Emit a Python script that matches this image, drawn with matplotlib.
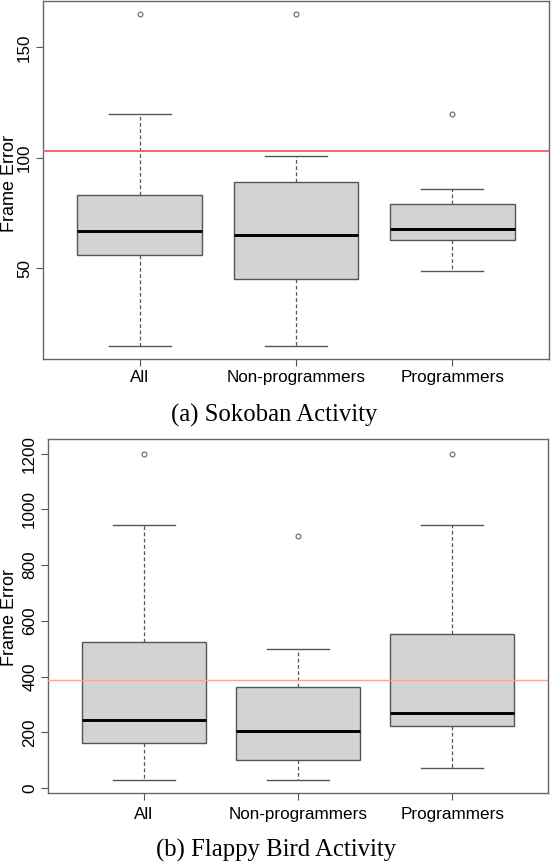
import matplotlib
matplotlib.use("Agg")
import matplotlib.pyplot as plt

plt.rcParams["font.family"] = ["Liberation Sans", "DejaVu Sans"]

groups = ["All", "Non-programmers", "Programmers"]

# (a) Sokoban: five-number summaries
soko_whislo = [15, 15, 49]
soko_q1 = [56, 45, 63]
soko_med = [67, 65, 68]
soko_q3 = [83, 89, 79]
soko_whishi = [120, 101, 86]
soko_fliers = [[165], [165], [120]]
soko_ref = 103
soko_ticks = [50, 100, 150]

# (b) Flappy Bird
flappy_whislo = [30, 30, 73]
flappy_q1 = [160, 102, 224]
flappy_med = [245, 203, 269]
flappy_q3 = [525, 363, 551]
flappy_whishi = [945, 498, 945]
flappy_fliers = [[1200], [905], [1200]]
flappy_ref = 386
flappy_ticks = [0, 200, 400, 600, 800, 1000, 1200]

EDGE = "#555555"
FILL = "#d3d3d3"
TICK_FS = 12.3


def make_stats(whislo, q1, med, q3, whishi, fliers):
    return [
        dict(whislo=a, q1=b, med=c, q3=d, whishi=e, fliers=f, label=g)
        for a, b, c, d, e, f, g in zip(whislo, q1, med, q3, whishi, fliers, groups)
    ]


def draw_panel(ax, stats, ref, ref_color, ref_lw, ticks, ylim, xpad):
    ax.bxp(
        stats,
        positions=[1, 2, 3],
        widths=0.8,
        capwidths=0.4,
        patch_artist=True,
        boxprops=dict(facecolor=FILL, edgecolor=EDGE, linewidth=1.0),
        medianprops=dict(color="black", linewidth=2.1),
        whiskerprops=dict(color=EDGE, linewidth=0.9, linestyle=(0, (3, 2))),
        capprops=dict(color=EDGE, linewidth=1.0),
        flierprops=dict(marker="o", markersize=3.5, markerfacecolor="none",
                        markeredgecolor="#666666", markeredgewidth=0.8),
    )
    ax.axhline(ref, color=ref_color, linewidth=ref_lw, zorder=5)
    ax.set_xlim(0.38, 3.62)
    ax.set_ylim(*ylim)
    ax.set_yticks(ticks)
    ax.set_xticks([1, 2, 3])
    ax.set_xticklabels(groups, fontsize=TICK_FS)
    for lab in ax.get_yticklabels():
        lab.set_rotation(90)
        lab.set_va("center")
        lab.set_fontsize(TICK_FS)
    ax.tick_params(axis="y", length=5, pad=3, color=EDGE)
    ax.tick_params(axis="x", length=5, pad=xpad, color=EDGE)
    for sp in ax.spines.values():
        sp.set_color("#666666")
        sp.set_linewidth(1.0)


fig = plt.figure(figsize=(5.52, 8.64), dpi=100)

ax1 = fig.add_axes([43 / 552, 1 - 359 / 864, 506 / 552, 358 / 864])
draw_panel(ax1, make_stats(soko_whislo, soko_q1, soko_med, soko_q3, soko_whishi, soko_fliers),
           soko_ref, "#f06a6a", 1.4, soko_ticks, (9, 171), 3)

ax2 = fig.add_axes([48.3 / 552, 1 - 793.3 / 864, 499.4 / 552, 354 / 864])
draw_panel(ax2, make_stats(flappy_whislo, flappy_q1, flappy_med, flappy_q3, flappy_whishi, flappy_fliers),
           flappy_ref, "#f4a6a6", 1.0, flappy_ticks, (-19, 1251), 5)

fig.text(9.5 / 552, 1 - 184 / 864, "Frame Error", rotation=90, ha="center", va="center", fontsize=13)
fig.text(9.5 / 552, 1 - 618 / 864, "Frame Error", rotation=90, ha="center", va="center", fontsize=13)

fig.text(274 / 552, 1 - 415 / 864, "(a) Sokoban Activity", ha="center", va="center",
         fontsize=17.8, family=["Liberation Serif", "DejaVu Serif"])
fig.text(276 / 552, 1 - 850 / 864, "(b) Flappy Bird Activity", ha="center", va="center",
         fontsize=17.8, family=["Liberation Serif", "DejaVu Serif"])

fig.savefig("out.png", dpi=100)
